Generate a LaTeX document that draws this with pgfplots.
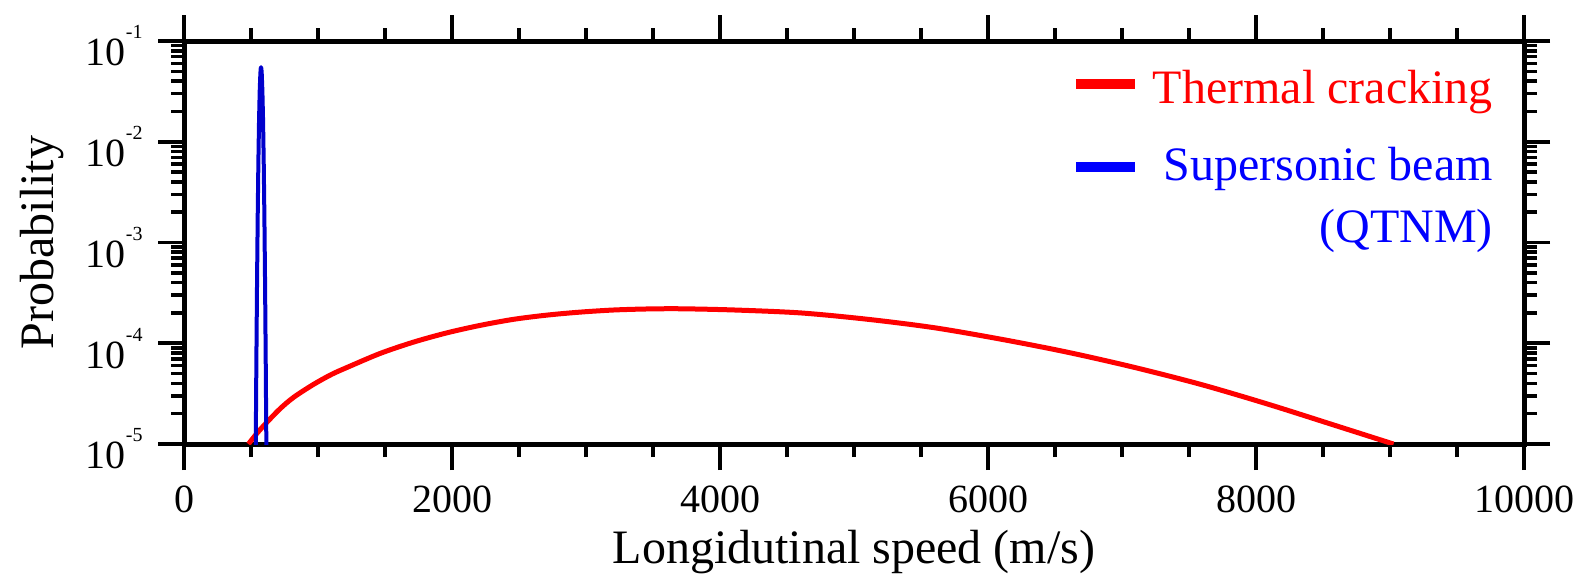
\documentclass[border=0pt]{standalone}
\usepackage{fontspec}
\setmainfont{Liberation Serif}
\usepackage{pgfplots}
\pgfplotsset{compat=1.18}
\definecolor{beamblue}{rgb}{0,0,0.8}
\newcommand{\ep}[1]{10\raisebox{13.5pt}{\fontsize{10}{10}\selectfont #1}}
\begin{document}
\begin{tikzpicture}
\begin{axis}[
  scale only axis, width=670pt, height=201.5pt,
  xmin=0, xmax=10000, ymode=log, ymin=1e-5, ymax=1e-1,
  scaled x ticks=false,
  axis line style={line width=2.5pt},
  every tick/.style={black, line width=1.8pt},
  tick align=outside,
  major tick length=13pt, minor tick length=6.5pt,
  xtick={0,2000,4000,6000,8000,10000},
  xticklabels={0,2000,4000,6000,8000,10000},
  minor xtick={500,1000,1500,2500,3000,3500,4500,5000,5500,6500,7000,7500,8500,9000,9500},
  ytick={1e-5,1e-4,1e-3,1e-2,1e-1},
  yticklabels={\ep{-5},\ep{-4},\ep{-3},\ep{-2},\ep{-1}},
  minor ytick={2e-5,3e-5,4e-5,5e-5,6e-5,7e-5,8e-5,9e-5,2e-4,3e-4,4e-4,5e-4,6e-4,7e-4,8e-4,9e-4,2e-3,3e-3,4e-3,5e-3,6e-3,7e-3,8e-3,9e-3,2e-2,3e-2,4e-2,5e-2,6e-2,7e-2,8e-2,9e-2},
  tick label style={font=\fontsize{20}{24}\selectfont},
  xticklabel style={inner sep=0pt, yshift=-7.5pt},
  yticklabel style={inner sep=0pt, xshift=-7.5pt, yshift=-2.5pt},
  xlabel={Longidutinal speed (m/s)},
  ylabel={Probability},
  label style={font=\fontsize{24}{28}\selectfont},
  xlabel style={at={(axis description cs:0.5,-0.2953)}, anchor=base},
  ylabel style={at={(axis description cs:-0.106,0.5)}, anchor=center},
]
\addplot[red, line width=2.5pt, line join=round, smooth] coordinates {
(481,1.0e-5) (550,1.303e-5) (618,1.64e-5) (717,2.24e-5) (820,2.92e-5)
(967,3.91e-5) (1100,4.90e-5) (1216,5.75e-5) (1465,7.94e-5) (1714,1.028e-4)
(1963,1.27e-4) (2212,1.507e-4) (2461,1.73e-4) (2711,1.905e-4) (2960,2.04e-4)
(3209,2.14e-4) (3458,2.19e-4) (3707,2.20e-4) (4105,2.14e-4) (4604,2.00e-4)
(5102,1.73e-4) (5600,1.426e-4) (6099,1.096e-4) (6597,8.13e-5) (7095,5.75e-5)
(7593,3.89e-5) (8092,2.48e-5) (8590,1.53e-5) (9026,1.0e-5)
};
\addplot[beamblue, line width=2pt, line join=round] coordinates {
(535,8.1e-6) (540,6.4e-5) (545,3.9e-4) (550,1.79e-3) (555,6.2e-3)
(560,1.64e-2) (565,3.2e-2) (570,4.8e-2) (572.5,5.3e-2) (575,5.5e-2) (577.5,5.3e-2) (580,4.8e-2)
(585,3.2e-2) (590,1.64e-2) (595,6.2e-3) (600,1.79e-3) (605,3.9e-4)
(610,6.4e-5) (615,8.1e-6)
};
\draw[red, line width=5pt] (rel axis cs:0.666,0.893) -- (rel axis cs:0.710,0.893);
\draw[blue, line width=5pt] (rel axis cs:0.666,0.687) -- (rel axis cs:0.710,0.687);
\node[anchor=base east, inner sep=0pt, text=red, font=\fontsize{24}{28}\selectfont] at (rel axis cs:0.977,0.846) {Thermal cracking};
\node[anchor=base east, inner sep=0pt, text=blue, font=\fontsize{24}{28}\selectfont] at (rel axis cs:0.977,0.655) {Supersonic beam};
\node[anchor=base east, inner sep=0pt, text=blue, font=\fontsize{24}{28}\selectfont] at (rel axis cs:0.977,0.501) {(QTNM)};
\end{axis}
\path (current axis.south west) ++(-92pt,-65.5pt) rectangle ([xshift=29pt,yshift=20.5pt]current axis.north east);
\end{tikzpicture}
\end{document}
